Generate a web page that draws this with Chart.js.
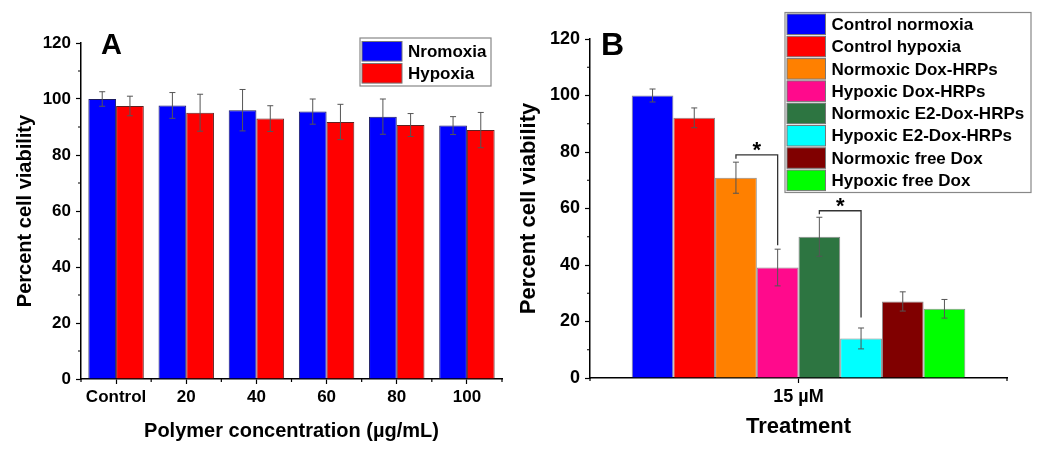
<!DOCTYPE html>
<html>
<head>
<meta charset="utf-8">
<script src="https://cdn.jsdelivr.net/npm/chart.js@4.4.1/dist/chart.umd.min.js"></script>
<style>
  html, body { margin: 0; padding: 0; background: #fff; }
  #wrap { position: relative; width: 1050px; height: 452px; }
  .panel { position: absolute; top: 0; height: 452px; }
  #pa { left: 0; width: 520px; }
  #pb { left: 520px; width: 530px; }
</style>
</head>
<body>
<div id="wrap">
  <div class="panel" id="pa"><canvas id="chartA"></canvas></div>
  <div class="panel" id="pb"><canvas id="chartB"></canvas></div>
</div>
<script>
const FONT = '"Liberation Sans", Arial, sans-serif';

// ---- panel A data
const concLabels = ['Control', '20', '40', '60', '80', '100'];
const normoxiaA = [100, 97.7, 96, 95.5, 93.7, 90.5];
const normoxiaErrA = [2.6, 4.6, 7.4, 4.5, 6.3, 3.2];
const hypoxiaA = [97.5, 95.1, 93, 91.8, 90.7, 88.9];
const hypoxiaErrA = [3.5, 6.6, 4.6, 6.3, 4.1, 6.3];

// ---- panel B data
const treatLabels = ['15 µM'];
const groupNamesB = ['Control normoxia', 'Control hypoxia', 'Normoxic Dox-HRPs', 'Hypoxic Dox-HRPs',
  'Normoxic E2-Dox-HRPs', 'Hypoxic E2-Dox-HRPs', 'Normoxic free Dox', 'Hypoxic free Dox'];
const groupColorsB = ['#0000ff', '#ff0000', '#ff8000', '#ff0a8c', '#2d7541', '#00ffff', '#800000', '#00ff00'];
const viabilityB = [100, 92.1, 70.9, 39.1, 50, 14, 27.1, 24.5];
const errB = [2.3, 3.5, 5.5, 6.5, 6.9, 3.7, 3.4, 3.3];

// significance brackets (group index pairs, bracket level, left / right end levels)
const sigPairs = [[2, 3], [4, 5]];
const sigTops = [79, 59.2];
const sigLeftEnds = [77.6, 58];
const sigRightEnds = [47, 21.4];

// error bars drawn from dataset.errors
const errorBars = {
  id: 'errorBars',
  afterDatasetsDraw(chart) {
    const ctx = chart.ctx, y = chart.scales.y;
    ctx.save();
    ctx.strokeStyle = '#555';
    ctx.lineWidth = 1;
    chart.data.datasets.forEach((ds, di) => {
      const meta = chart.getDatasetMeta(di);
      meta.data.forEach((bar, i) => {
        const v = ds.data[i], e = ds.errors[i];
        const yt = y.getPixelForValue(v + e), yb = y.getPixelForValue(v - e);
        ctx.beginPath();
        ctx.moveTo(bar.x, yt); ctx.lineTo(bar.x, yb);
        ctx.moveTo(bar.x - 3, yt); ctx.lineTo(bar.x + 3, yt);
        ctx.moveTo(bar.x - 3, yb); ctx.lineTo(bar.x + 3, yb);
        ctx.stroke();
      });
    });
    ctx.restore();
  }
};

// minor ticks on both axes
const minorTicks = {
  id: 'minorTicks',
  afterDraw(chart) {
    const ctx = chart.ctx, x = chart.scales.x, y = chart.scales.y;
    const area = chart.chartArea;
    ctx.save();
    ctx.strokeStyle = '#000';
    ctx.lineWidth = 1.2;
    const yt = y.ticks;
    ctx.beginPath();
    for (let i = 0; i < yt.length - 1; i++) {
      const py = y.getPixelForValue((yt[i].value + yt[i + 1].value) / 2);
      ctx.moveTo(area.left - 3, py); ctx.lineTo(area.left, py);
    }
    const n = chart.data.labels.length;
    for (let i = 0; i <= n; i++) {
      const px = x.getPixelForValue(i - 0.5);
      ctx.moveTo(px, area.bottom); ctx.lineTo(px, area.bottom + 3);
    }
    ctx.stroke();
    ctx.restore();
  }
};

// framed legend + panel letter
const boxLegend = {
  id: 'boxLegend',
  afterDraw(chart, args, o) {
    const ctx = chart.ctx;
    ctx.save();
    ctx.fillStyle = '#000';
    ctx.font = 'bold ' + o.letterSize + 'px ' + FONT;
    ctx.textBaseline = 'alphabetic';
    ctx.fillText(o.letter, o.letterX, o.letterY);
    ctx.strokeStyle = '#888';
    ctx.lineWidth = 1.2;
    ctx.fillStyle = '#fff';
    ctx.fillRect(o.x, o.y, o.w, o.h);
    ctx.strokeRect(o.x, o.y, o.w, o.h);
    ctx.font = 'bold ' + o.fontSize + 'px ' + FONT;
    ctx.textBaseline = 'middle';
    chart.data.datasets.forEach((ds, i) => {
      const ry = o.y + o.pad + i * o.rowH;
      ctx.fillStyle = ds.backgroundColor;
      ctx.fillRect(o.x + 2, ry, o.sw, o.sh);
      ctx.strokeStyle = '#777';
      ctx.lineWidth = 1;
      ctx.strokeRect(o.x + 2, ry, o.sw, o.sh);
      ctx.fillStyle = '#000';
      ctx.fillText(ds.label, o.x + o.sw + 8, ry + o.sh / 2 + 1);
    });
    ctx.restore();
  }
};

// significance brackets for panel B
const sigBrackets = {
  id: 'sigBrackets',
  afterDatasetsDraw(chart) {
    if (!chart.options.plugins.sigBrackets) return;
    const ctx = chart.ctx, y = chart.scales.y;
    ctx.save();
    ctx.strokeStyle = '#333';
    ctx.lineWidth = 1.3;
    ctx.fillStyle = '#000';
    ctx.font = 'bold 22px ' + FONT;
    ctx.textAlign = 'center';
    ctx.textBaseline = 'middle';
    sigPairs.forEach((p, k) => {
      const x1 = chart.getDatasetMeta(p[0]).data[0].x;
      const x2 = chart.getDatasetMeta(p[1]).data[0].x;
      const yt = y.getPixelForValue(sigTops[k]);
      ctx.beginPath();
      ctx.moveTo(x1, y.getPixelForValue(sigLeftEnds[k]));
      ctx.lineTo(x1, yt);
      ctx.lineTo(x2, yt);
      ctx.lineTo(x2, y.getPixelForValue(sigRightEnds[k]));
      ctx.stroke();
      ctx.fillText('*', (x1 + x2) / 2, yt - 4);
    });
    ctx.restore();
  }
};

function axes(opts) {
  return {
    x: {
      offset: true,
      grid: { display: true, drawOnChartArea: false, offset: false, tickLength: 5, tickColor: '#000', tickWidth: 1.2 },
      border: { color: '#000', width: 1.5 },
      ticks: { color: '#000', font: { family: FONT, size: opts.tickSize, weight: 'bold' }, padding: 3 },
      title: { display: true, text: opts.xTitle, color: '#000', font: { family: FONT, size: opts.titleSize, weight: 'bold' }, padding: { top: 0, bottom: opts.xTitlePad } },
      afterFit: s => { s.height = opts.xHeight; }
    },
    y: {
      min: 0, max: 120,
      grid: { display: true, drawOnChartArea: false, tickLength: 5, tickColor: '#000', tickWidth: 1.2 },
      border: { color: '#000', width: 1.5 },
      ticks: { stepSize: 20, color: '#000', font: { family: FONT, size: opts.tickSize, weight: 'bold' }, padding: 5 },
      title: { display: true, text: 'Percent cell viability', color: '#000', font: { family: FONT, size: opts.titleSize, weight: 'bold', lineHeight: 1 }, padding: { top: opts.yTitlePad, bottom: 0 } },
      afterFit: s => { s.width = opts.yWidth; }
    }
  };
}

new Chart(document.getElementById('chartA'), {
  type: 'bar',
  data: {
    labels: concLabels,
    datasets: [
      { label: 'Nromoxia', data: normoxiaA, errors: normoxiaErrA, backgroundColor: '#0000ff', borderColor: '#1a1a60', borderWidth: 1 },
      { label: 'Hypoxia', data: hypoxiaA, errors: hypoxiaErrA, backgroundColor: '#ff0000', borderColor: '#602020', borderWidth: 1 }
    ]
  },
  options: {
    responsive: true, maintainAspectRatio: false, animation: false,
    layout: { padding: { top: 43, right: 18, left: 0, bottom: 0 } },
    datasets: { bar: { barPercentage: 1, categoryPercentage: 0.79 } },
    scales: axes({ tickSize: 17, titleSize: 20, xTitle: 'Polymer concentration (µg/mL)', xHeight: 73, xTitlePad: 9, yWidth: 81, yTitlePad: 15 }),
    plugins: {
      legend: { display: false }, tooltip: { enabled: false },
      boxLegend: { x: 360, y: 38, w: 131, h: 48, pad: 3.5, rowH: 22, sw: 40, sh: 19.6, fontSize: 17,
        letter: 'A', letterX: 101, letterY: 54, letterSize: 29 }
    }
  },
  plugins: [errorBars, minorTicks, boxLegend]
});

new Chart(document.getElementById('chartB'), {
  type: 'bar',
  data: {
    labels: treatLabels,
    datasets: groupNamesB.map((name, i) => ({
      label: name, data: [viabilityB[i]], errors: [errB[i]],
      backgroundColor: groupColorsB[i], borderColor: 'rgba(40,40,40,0.55)', borderWidth: 1
    }))
  },
  options: {
    responsive: true, maintainAspectRatio: false, animation: false,
    layout: { padding: { top: 39, right: 43, left: 0, bottom: 0 } },
    datasets: { bar: { barPercentage: 1, categoryPercentage: 0.8 } },
    scales: axes({ tickSize: 18, titleSize: 22, xTitle: 'Treatment', xHeight: 74, xTitlePad: 12, yWidth: 70, yTitlePad: -2 }),
    plugins: {
      legend: { display: false }, tooltip: { enabled: false },
      sigBrackets: {},
      boxLegend: { x: 265, y: 12.5, w: 246, h: 180, pad: 1.5, rowH: 22.3, sw: 38.5, sh: 20.5, fontSize: 17,
        letter: 'B', letterX: 81, letterY: 55, letterSize: 32 }
    }
  },
  plugins: [errorBars, minorTicks, sigBrackets, boxLegend]
});
</script>
</body>
</html>
